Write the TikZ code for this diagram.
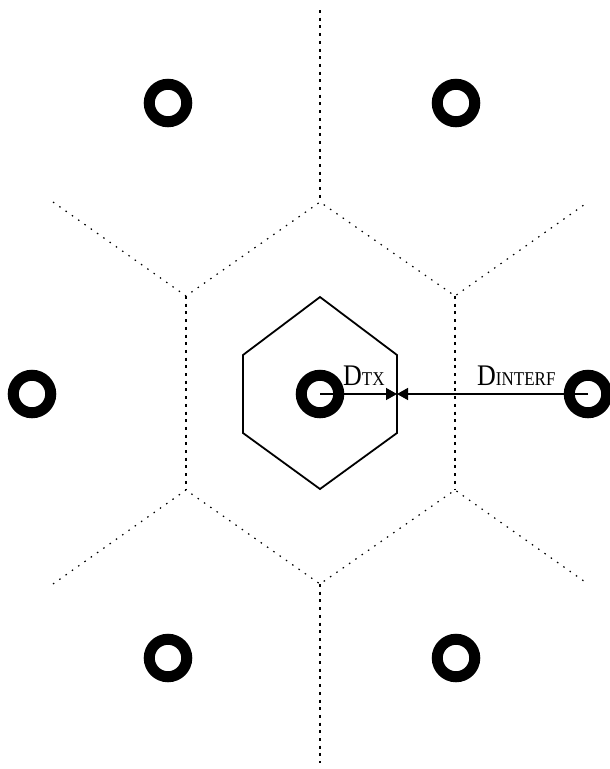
\documentclass[tikz,border=0pt]{standalone}
\usepackage{fontspec}
\setmainfont{Liberation Serif}
\usetikzlibrary{arrows.meta}
\tikzset{
  site/.style={circle,draw=black,line width=11pt,minimum size=37.5pt,inner sep=0pt},
  cellv/.style={line width=2pt,dash pattern=on 3pt off 4.7pt},
  celld/.style={line width=1.2pt,dash pattern=on 1.5pt off 6.2pt},
  hexcell/.style={line width=1.8pt,line join=miter},
  dist/.style={line width=1.4pt,-{Triangle[length=11pt,width=12pt]}},
  lbl/.style={inner sep=0pt,anchor=base west,font=\fontsize{26}{26}\selectfont},
}
\newcommand{\smallcap}[1]{{\fontsize{17}{17}\selectfont #1}}
\newcommand{\tallbox}[1]{\scalebox{1}[1.15]{#1}}
\begin{document}
\begin{tikzpicture}[x=1pt,y=-1pt]
\useasboundingbox (0,0) rectangle (610,769);
% cell boundaries
\coordinate (vt) at (320,202);
\coordinate (vl) at (186,296);
\coordinate (vr) at (455,296);
\coordinate (wl) at (186,490);
\coordinate (wr) at (455,490);
\coordinate (vb) at (320,584);
\coordinate (top) at (320,10);
\coordinate (bot) at (320,763);
\coordinate (tl) at (53,202);
\coordinate (tr) at (588,202);
\coordinate (bl) at (53,584);
\coordinate (br) at (588,584);
\draw[cellv] (top) -- (vt);
\draw[cellv] (vl) -- (wl);
\draw[cellv] (vr) -- (wr);
\draw[cellv] (vb) -- (bot);
\draw[celld] (tl) -- (vl) -- (vt) -- (vr) -- (tr);
\draw[celld] (bl) -- (wl) -- (vb) -- (wr) -- (br);
% coverage hexagon of the central transmitter
\draw[hexcell] (320,297) -- (397,355) -- (397,433) -- (320,489) -- (243,433) -- (243,355) -- cycle;
\coordinate (edge) at (397,394);
% transmitter sites
\node[site] (s0) at (320,394) {};
\node[site] (s1) at (168,103) {};
\node[site] (s2) at (456,103) {};
\node[site] (s3) at (32,394) {};
\node[site] (s4) at (588,394) {};
\node[site] (s5) at (168,658) {};
\node[site] (s6) at (456,658) {};
% distances
\draw[dist] (s0.center) -- (edge);
\draw[dist] (s4.center) -- (edge);
\node[lbl] (dtx) at (343,385) {\tallbox{D\smallcap{TX}}};
\node[lbl] (dint) at (477,385) {\tallbox{D\smallcap{INTERF}}};
\end{tikzpicture}
\end{document}
